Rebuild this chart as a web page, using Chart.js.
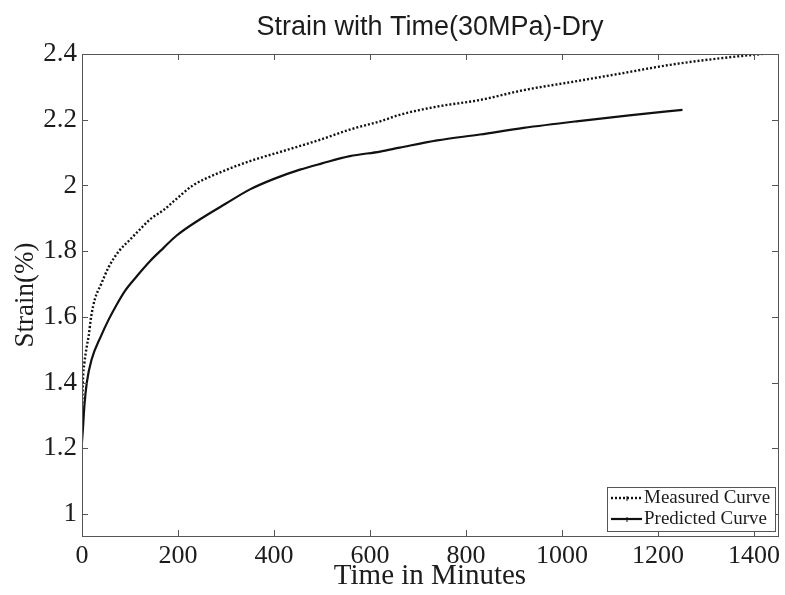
<!DOCTYPE html>
<html>
<head>
<meta charset="utf-8">
<script src="https://cdn.jsdelivr.net/npm/chart.js@4"></script>
<style>
  body { margin: 0; background: #fff; }
</style>
</head>
<body>
<canvas id="chart" width="785" height="595"></canvas>
<script>
// data
const measuredTime = [0, 1, 2, 5, 10, 14, 19, 27, 40, 55, 77, 100, 120, 142, 170, 192, 231, 280, 350, 420, 496, 558, 621, 662, 740, 829, 920, 1025, 1120, 1225, 1330, 1450];
const measuredStrain = [1.30, 1.36, 1.41, 1.46, 1.51, 1.543, 1.60, 1.655, 1.70, 1.75, 1.80, 1.835, 1.865, 1.897, 1.925, 1.953, 2.00, 2.035, 2.074, 2.105, 2.139, 2.17, 2.195, 2.215, 2.24, 2.26, 2.29, 2.316, 2.34, 2.367, 2.387, 2.405];

const predictedTime = [0, 1, 2, 5, 10, 20, 40, 55, 71, 90, 115, 142, 170, 196, 246, 300, 350, 400, 454, 500, 558, 621, 662, 740, 829, 920, 1030, 1140, 1251];
const predictedStrain = [1.22, 1.24, 1.26, 1.33, 1.40, 1.47, 1.543, 1.59, 1.634, 1.68, 1.725, 1.77, 1.81, 1.846, 1.897, 1.945, 1.988, 2.02, 2.048, 2.067, 2.089, 2.103, 2.115, 2.137, 2.155, 2.175, 2.195, 2.213, 2.23];

const xTicks = [0, 200, 400, 600, 800, 1000, 1200, 1400];
const yTicks = [1, 1.2, 1.4, 1.6, 1.8, 2, 2.2, 2.4];

const serif = 'Liberation Serif';
const ink = '#1c1c1c';

/*frame, inward ticks and legend box*/
const frame = {
  id: 'frame',
  afterLayout(chart) {
    // center the title over the plot, not the canvas
    if (chart.titleBlock) {
      chart.titleBlock.left = chart.chartArea.left;
      chart.titleBlock.right = chart.chartArea.right;
    }
  },
  afterDraw(chart) {
    const ctx = chart.ctx;
    const a = chart.chartArea;
    const sx = chart.scales.x;
    const sy = chart.scales.y;
    ctx.save();
    ctx.strokeStyle = '#555';
    ctx.lineWidth = 1;
    ctx.strokeRect(Math.round(a.left) + 0.5, Math.round(a.top) + 0.5, Math.round(a.right - a.left), Math.round(a.bottom - a.top));
    ctx.beginPath();
    sx.ticks.forEach(function (t) {
      let px = Math.round(sx.getPixelForValue(t.value)) + 0.5;
      ctx.moveTo(px, a.bottom); ctx.lineTo(px, a.bottom - 6);
      ctx.moveTo(px, a.top); ctx.lineTo(px, a.top + 6);
    });
    sy.ticks.forEach(function (t) {
      let py = Math.round(sy.getPixelForValue(t.value)) + 0.5;
      ctx.moveTo(a.left, py); ctx.lineTo(a.left + 6, py);
      ctx.moveTo(a.right, py); ctx.lineTo(a.right - 6, py);
    });
    ctx.stroke();

    // legend
    let bx = 607, by = 487, bw = 168, bh = 44;
    ctx.fillStyle = '#fff';
    ctx.fillRect(bx, by, bw, bh);
    ctx.strokeRect(bx + 0.5, by + 0.5, bw, bh);
    ctx.font = '19px "' + serif + '"';
    ctx.textBaseline = 'middle';
    ctx.fillStyle = ink;
    chart.data.datasets.forEach(function (ds, i) {
      let ly = by + 11 + i * 21;
      ctx.strokeStyle = ds.borderColor;
      ctx.lineWidth = ds.borderWidth;
      ctx.setLineDash(ds.borderDash || []);
      ctx.beginPath();
      ctx.moveTo(bx + 4, ly);
      ctx.lineTo(bx + 35, ly);
      ctx.stroke();
      ctx.setLineDash([]);
      ctx.lineWidth = 1;
      ctx.beginPath();
      ctx.moveTo(bx + 20, ly - 2);
      ctx.lineTo(bx + 20, ly + 3);
      ctx.stroke();
      ctx.fillText(ds.label, bx + 37, ly);
    });
    ctx.restore();
  }
};

new Chart(document.getElementById('chart'), {
  type: 'line',
  data: {
    datasets: [
      {
        label: 'Measured Curve',
        data: measuredTime.map((t, i) => ({ x: t, y: measuredStrain[i] })),
        borderColor: '#111',
        borderWidth: 2.4,
        borderDash: [2, 2],
        pointRadius: 0,
        fill: false,
        cubicInterpolationMode: 'monotone'
      },
      {
        label: 'Predicted Curve',
        data: predictedTime.map((t, i) => ({ x: t, y: predictedStrain[i] })),
        borderColor: '#111',
        borderWidth: 2.2,
        pointRadius: 0,
        fill: false,
        cubicInterpolationMode: 'monotone'
      }
    ]
  },
  options: {
    responsive: false,
    animation: false,
    layout: { padding: { left: 0, right: 7, top: 0, bottom: 0 } },
    plugins: {
      legend: { display: false },
      tooltip: { enabled: false },
      title: {
        display: true,
        text: 'Strain with Time(30MPa)-Dry',
        color: ink,
        font: { family: 'Liberation Sans', size: 27, weight: 'normal', lineHeight: 1.2 },
        padding: { top: 11, bottom: 10.6 }
      }
    },
    scales: {
      x: {
        type: 'linear',
        min: 0,
        max: 1450,
        grid: { display: false, drawTicks: false },
        border: { display: false },
        afterBuildTicks: function (s) { s.ticks = xTicks.map(v => ({ value: v })); },
        afterFit: function (s) { s.height = 59; s.paddingLeft = 0; s.paddingRight = 0; },
        ticks: {
          padding: 5,
          color: ink,
          maxRotation: 0,
          autoSkip: false,
          font: { family: serif, size: 26 },
          callback: function (v) { return String(v); }
        },
        title: {
          display: true,
          text: 'Time in Minutes',
          color: ink,
          font: { family: serif, size: 29, lineHeight: 1 },
          padding: { top: 0, bottom: 4 }
        }
      },
      y: {
        type: 'linear',
        min: 0.933,
        max: 2.4,
        grid: { display: false, drawTicks: false },
        border: { display: false },
        afterBuildTicks: function (s) { s.ticks = yTicks.map(v => ({ value: v })); },
        afterFit: function (s) { s.width = 82; s.paddingTop = 0; s.paddingBottom = 0; },
        ticks: {
          padding: 5,
          color: ink,
          autoSkip: false,
          font: { family: serif, size: 27 },
          callback: function (v) { return String(Math.round(v * 10) / 10); }
        },
        title: {
          display: true,
          text: 'Strain(%)',
          color: ink,
          font: { family: serif, size: 27, lineHeight: 1 },
          padding: { top: 12, bottom: 0 }
        }
      }
    }
  },
  plugins: [frame]
});
</script>
</body>
</html>
